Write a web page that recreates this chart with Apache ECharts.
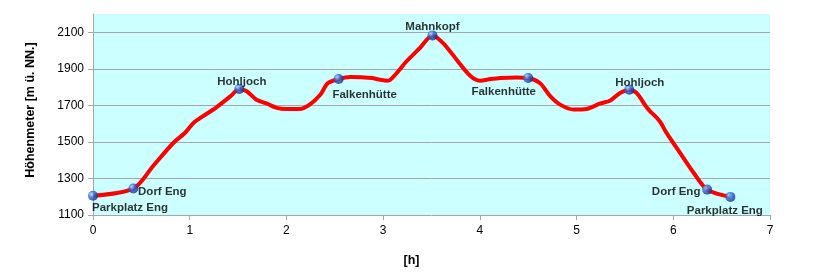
<!DOCTYPE html>
<html>
<head>
<meta charset="utf-8">
<script src="https://cdn.jsdelivr.net/npm/echarts@6/dist/echarts.min.js"></script>
<style>
html,body{margin:0;padding:0;background:#fff;}
#chart{width:815px;height:279px;}
</style>
</head>
<body>
<div id="chart"></div>
<script>
// ---- data ----
var profileHours = [0, 0.417, 0.62, 0.83, 0.95, 1.04, 1.11, 1.28, 1.42, 1.513, 1.59, 1.69, 1.80, 1.90, 2.00, 2.14, 2.24, 2.35, 2.43, 2.54, 2.66, 2.88, 2.97, 3.05, 3.14, 3.24, 3.38, 3.51, 3.62, 3.76, 3.90, 4.00, 4.11, 4.21, 4.38, 4.50, 4.62, 4.73, 4.83, 4.97, 5.10, 5.24, 5.35, 5.45, 5.545, 5.62, 5.73, 5.86, 5.93, 6.07, 6.21, 6.35, 6.59];
var profileElevations = [1205, 1245, 1367, 1494, 1549, 1604, 1631, 1691, 1749, 1790, 1777, 1731, 1709, 1686, 1680, 1680, 1704, 1758, 1822, 1844, 1855, 1850, 1840, 1835, 1877, 1940, 2014, 2083, 2041, 1950, 1862, 1835, 1844, 1850, 1853, 1850, 1822, 1749, 1704, 1677, 1680, 1709, 1727, 1768, 1786, 1768, 1686, 1613, 1549, 1440, 1331, 1239, 1199];
var waypointNames = ['Parkplatz Eng', 'Dorf Eng', 'Hohljoch', 'Falkenhütte', 'Mahnkopf', 'Falkenhütte', 'Hohljoch', 'Dorf Eng', 'Parkplatz Eng'];
var waypointHours = [0, 0.417, 1.513, 2.54, 3.51, 4.50, 5.545, 6.35, 6.59];
var waypointElevations = [1205, 1245, 1790, 1844, 2083, 1850, 1786, 1239, 1199];
var yTickLabels = [1100, 1300, 1500, 1700, 1900, 2100];
var xTickLabels = [0, 1, 2, 3, 4, 5, 6, 7];

// ---- label placement (style only) ----
var labelOffsets = [[37, 12.5], [29, 3], [2.5, -7], [26, 15.5], [0, -8.5], [-24.5, 13.5], [10.5, -7.3], [-31, 2], [-5.5, 13.5]];

var lineData = profileHours.map(function (h, i) { return [h, profileElevations[i]]; });
var pointData = waypointHours.map(function (h, i) {
  return {
    name: waypointNames[i],
    value: [h, waypointElevations[i]],
    label: { offset: labelOffsets[i] }
  };
});

var chart = echarts.init(document.getElementById('chart'), null, { renderer: 'canvas' });
var gray = '#a6a6a6';
chart.setOption({
  animation: false,
  grid: { left: 93, right: 45, top: 14, bottom: 64, show: true, backgroundColor: '#ccffff', borderWidth: 0 },
  xAxis: {
    type: 'value', min: 0, max: 7, interval: 1,
    name: '[h]', nameLocation: 'middle', nameGap: 39,
    nameTextStyle: { fontFamily: 'Liberation Sans, Arial', fontWeight: 'bold', fontSize: 12.5, color: '#000', padding: [0, 40, 0, 0] },
    axisLine: { show: true, lineStyle: { color: gray, width: 1 } },
    axisTick: { show: true, length: 5, lineStyle: { color: gray } },
    axisLabel: { margin: 10, fontFamily: 'Liberation Sans, Arial', fontSize: 12, color: '#000',
      customValues: xTickLabels },
    splitLine: { show: false }
  },
  yAxis: {
    type: 'value', min: 1100, max: 2200, interval: 200,
    name: 'Höhenmeter [m ü. NN.]', nameLocation: 'middle', nameGap: 56, nameRotate: 90,
    nameTextStyle: { fontFamily: 'Liberation Sans, Arial', fontWeight: 'bold', fontSize: 12.5, color: '#000', padding: [0, 0, 0, 9] },
    axisLine: { show: true, lineStyle: { color: gray, width: 1 } },
    axisTick: { show: true, length: 5, lineStyle: { color: gray }, customValues: yTickLabels },
    axisLabel: { margin: 9, fontFamily: 'Liberation Sans, Arial', fontSize: 12, color: '#000', customValues: yTickLabels,
      formatter: function (v) { return String(v); } },
    splitLine: { show: true, showMinLine: false, lineStyle: { color: gray, width: 1 } }
  },
  series: [
    {
      type: 'line',
      data: lineData,
      smooth: 0.3,
      showSymbol: false,
      lineStyle: { color: '#ff0000', width: 4 },
      z: 2
    },
    {
      type: 'scatter',
      data: pointData,
      symbol: 'circle',
      symbolSize: 10,
      itemStyle: {
        color: new echarts.graphic.RadialGradient(0.35, 0.35, 0.7, [
          { offset: 0, color: '#c0e0ff' },
          { offset: 0.4, color: '#2f6fe0' },
          { offset: 1, color: '#0a2a8a' }
        ])
      },
      label: {
        show: true,
        position: 'inside',
        formatter: '{b}',
        fontFamily: 'Liberation Sans, Arial',
        fontWeight: 'bold',
        fontSize: 11.5,
        color: '#000'
      },
      z: 3
    }
  ]
});
</script>
</body>
</html>
